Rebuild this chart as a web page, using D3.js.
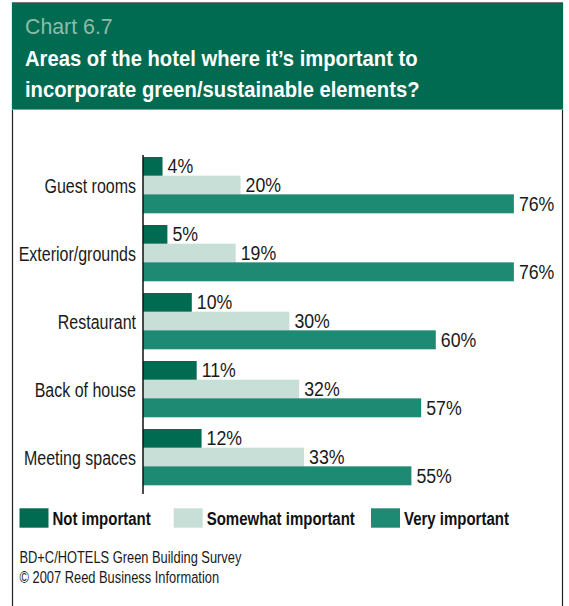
<!DOCTYPE html>
<html><head><meta charset="utf-8">
<script src="https://cdn.jsdelivr.net/npm/d3@7"></script>
<style>
html,body{margin:0;padding:0;background:#fff;}
svg{display:block;}
text{font-family:"Liberation Sans",Arial,sans-serif;}
</style></head>
<body>
<svg id="chart" width="569" height="606"></svg>
<script>
const categories = ["Guest rooms","Exterior/grounds","Restaurant","Back of house","Meeting spaces"];
const seriesNames = ["Not important","Somewhat important","Very important"];
const notImportant = [4,5,10,11,12];
const somewhatImportant = [20,19,30,32,33];
const veryImportant = [76,76,60,57,55];
const colors = ["#006b50","#c8dfd8","#1f8a74"];
const chartLabel = "Chart 6.7";
const titleLines = ["Areas of the hotel where it\u2019s important to","incorporate green/sustainable elements?"];
const sourceLines = ["BD+C/HOTELS Green Building Survey","\u00a9 2007 Reed Business Information"];

const series = [notImportant, somewhatImportant, veryImportant];
const svg = d3.select("#chart");

// condensed text helper (horizontal squeeze to mimic a condensed face)
function ctext(parent, x, y, str, sx, o) {
  const g = parent.append("g").attr("transform", `translate(${x},${y}) scale(${sx},1)`);
  const t = g.append("text").attr("x",0).attr("y",0).text(str)
    .attr("font-size", o.size).attr("fill", o.fill || "#1a1a1a");
  if (o.weight) t.attr("font-weight", o.weight);
  if (o.anchor) t.attr("text-anchor", o.anchor);
  return t;
}

// frame
svg.append("line").attr("x1",12.5).attr("x2",12.5).attr("y1",3).attr("y2",606).attr("stroke","#222").attr("stroke-width",1.2);
svg.append("line").attr("x1",562.5).attr("x2",562.5).attr("y1",3).attr("y2",606).attr("stroke","#222").attr("stroke-width",1.2);
svg.append("rect").attr("x",12).attr("y",2).attr("width",551).attr("height",1.5).attr("fill","#777");
svg.append("rect").attr("x",12).attr("y",3).attr("width",551).attr("height",107).attr("fill","#006b50");
svg.append("rect").attr("x",12).attr("y",109).attr("width",551).attr("height",1).attr("fill","#6fa999");

ctext(svg, 25, 34, chartLabel, 0.97, {size:22, fill:"#8dbcaa"});
titleLines.forEach((t,i)=>{
  ctext(svg, 25, 65.7 + i*31.5, t, 0.92, {size:22, fill:"#fff", weight:"bold"});
});

// scales
const x0 = 143;
const x = d3.scaleLinear().domain([0,100]).range([x0, x0+488]);
const y = d3.scaleBand().domain(categories).range([157, 157+68*5-12]).paddingInner(12/68).paddingOuter(0).align(0);
const yInner = d3.scaleBand().domain([0,1,2]).range([0, y.bandwidth()]);

const g = svg.append("g");
categories.forEach((c,ci)=>{
  series.forEach((s,si)=>{
    const v = s[ci];
    const yy = y(c) + yInner(si);
    g.append("rect").attr("x",x(0)).attr("y",yy).attr("width",x(v)-x(0)).attr("height",yInner.bandwidth()+0.3).attr("fill",colors[si]);
    ctext(g, x(v)+5, yy+yInner.bandwidth()-2.5, v+"%", 0.91, {size:19.5});
  });
});

// category axis (labels aligned with middle bar)
const axis = d3.axisLeft(y).tickSize(0).tickPadding(0);
const ag = svg.append("g").attr("transform",`translate(${x0},0)`).call(axis);
ag.select(".domain").remove();
const labelOffset = 2*yInner.step() - 1 - y.bandwidth()/2;
ag.selectAll(".tick text")
  .attr("font-size",19.5).attr("fill","#1a1a1a").attr("font-family",null)
  .attr("x",0).attr("dy",null).attr("y",0).attr("text-anchor","end")
  .attr("transform",`translate(-7,${labelOffset}) scale(0.82,1)`);
svg.append("line").attr("x1",x0).attr("x2",x0).attr("y1",155).attr("y2",494).attr("stroke","#111").attr("stroke-width",1.5);

// legend
const legendX = [19.5,173.7,371];
seriesNames.forEach((n,i)=>{
  svg.append("rect").attr("x",legendX[i]).attr("y",508.3).attr("width",29).attr("height",19.4).attr("fill",colors[i]);
  ctext(svg, legendX[i]+33, 525, n, 0.81, {size:18.5, weight:"bold", fill:"#111"});
});

// source
sourceLines.forEach((t,i)=>{
  ctext(svg, 19.5, 562.7 + i*20, t, 0.78, {size:16.5});
});
</script>
</body></html>
